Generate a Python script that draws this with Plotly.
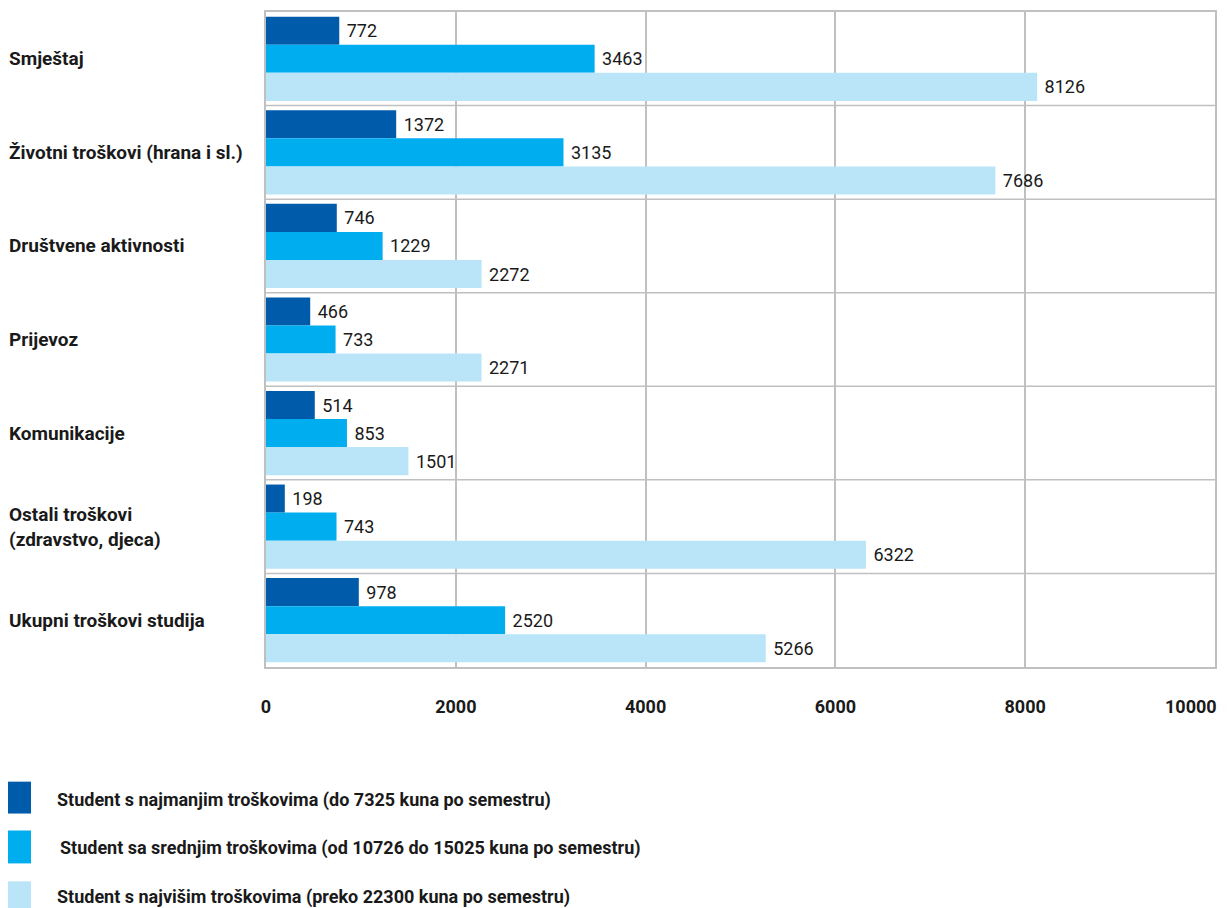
import plotly.graph_objects as go

categories = ["Smještaj", "Životni troškovi (hrana i sl.)", "Društvene aktivnosti",
              "Prijevoz", "Komunikacije", "Ostali troškovi<br>(zdravstvo, djeca)",
              "Ukupni troškovi studija"]
series_names = [
    "Student s najmanjim troškovima (do 7325 kuna po semestru)",
    "Student sa srednjim troškovima (od 10726 do 15025 kuna po semestru)",
    "Student s najvišim troškovima (preko 22300 kuna po semestru)",
]
low = [772, 1372, 746, 466, 514, 198, 978]
mid = [3463, 3135, 1229, 733, 853, 743, 2520]
high = [8126, 7686, 2272, 2271, 1501, 6322, 5266]
x_ticks = [0, 2000, 4000, 6000, 8000, 10000]

colors = ["#005BAA", "#00ADEE", "#BAE5F9"]
FONT = "Roboto, Liberation Sans, sans-serif"
GRID = "#C0C0C0"

# page pixel -> paper coordinates (plot area: x 266..1215, y 10..667 on the page)
def px(p):
    return (p - 266) / (1215 - 266)

def py(p):
    return (667 - p) / (667 - 10)

fig = go.Figure()
for name, vals, c in zip(series_names, [low, mid, high], colors):
    fig.add_trace(go.Bar(
        y=categories, x=vals, name=name, orientation="h",
        marker=dict(color=c, line=dict(width=0)),
        text=["\u00a0" + str(v) for v in vals], textposition="outside",
        textfont=dict(family=FONT, size=18, color="#1a1a1a"),
        cliponaxis=False, showlegend=False,
    ))

# category labels (left aligned)
for cat in categories:
    fig.add_annotation(x=px(7), xref="paper", y=cat, yref="y", text="<b>%s</b>" % cat,
                       showarrow=False, xanchor="left", align="left",
                       font=dict(family=FONT, size=19, color="#1a1a1a"))

# horizontal separators between categories
n = len(categories)
for i in range(1, n):
    fig.add_shape(type="line", xref="paper", yref="paper", x0=0, x1=1,
                  y0=i / n, y1=i / n, line=dict(color=GRID, width=1.5), layer="below")

# last tick label, pulled inside like the reference
fig.add_annotation(x=x_ticks[-1], xref="x", y=py(707), yref="paper",
                   text="<b>%d</b>" % x_ticks[-1], showarrow=False,
                   xanchor="right", yanchor="middle", xshift=4,
                   font=dict(family=FONT, size=18, color="#1a1a1a"))

# legend
leg_box = [(782, 814), (831, 864), (882, 915)]
leg_text_y = [800, 849, 898]
leg_text_x = [55, 58, 55]
for name, c, (b0, b1), ty, tx in zip(series_names, colors, leg_box, leg_text_y, leg_text_x):
    fig.add_shape(type="rect", xref="paper", yref="paper",
                  x0=px(5), x1=px(31), y0=py(b1), y1=py(b0),
                  fillcolor=c, line=dict(width=0))
    fig.add_annotation(x=px(tx), xref="paper", y=py(ty), yref="paper", text="<b>%s</b>" % name,
                       showarrow=False, xanchor="left", yanchor="middle",
                       font=dict(family=FONT, size=18, color="#1a1a1a"))

# page body has an 8px margin, so the figure is 8px smaller and offset
fig.update_layout(
    width=1219, height=900,
    margin=dict(l=258, r=12, t=2, b=241),
    paper_bgcolor="white", plot_bgcolor="white",
    barmode="group", bargap=0.1, bargroupgap=0,
    font=dict(family=FONT, color="#1a1a1a"),
    xaxis=dict(range=[0, 10000], tickvals=x_ticks[:-1],
               ticktext=["<b>%d</b>" % t for t in x_ticks[:-1]],
               showgrid=True, gridcolor=GRID, gridwidth=1.5,
               showline=True, linecolor=GRID, linewidth=1.5, mirror=True,
               zeroline=False, ticks="", ticklabelstandoff=23,
               tickfont=dict(family=FONT, size=18, color="#1a1a1a")),
    yaxis=dict(autorange="reversed", showticklabels=False, showgrid=False,
               showline=True, linecolor=GRID, linewidth=1.5, mirror=True,
               ticks=""),
)

fig.write_html("out.html")
